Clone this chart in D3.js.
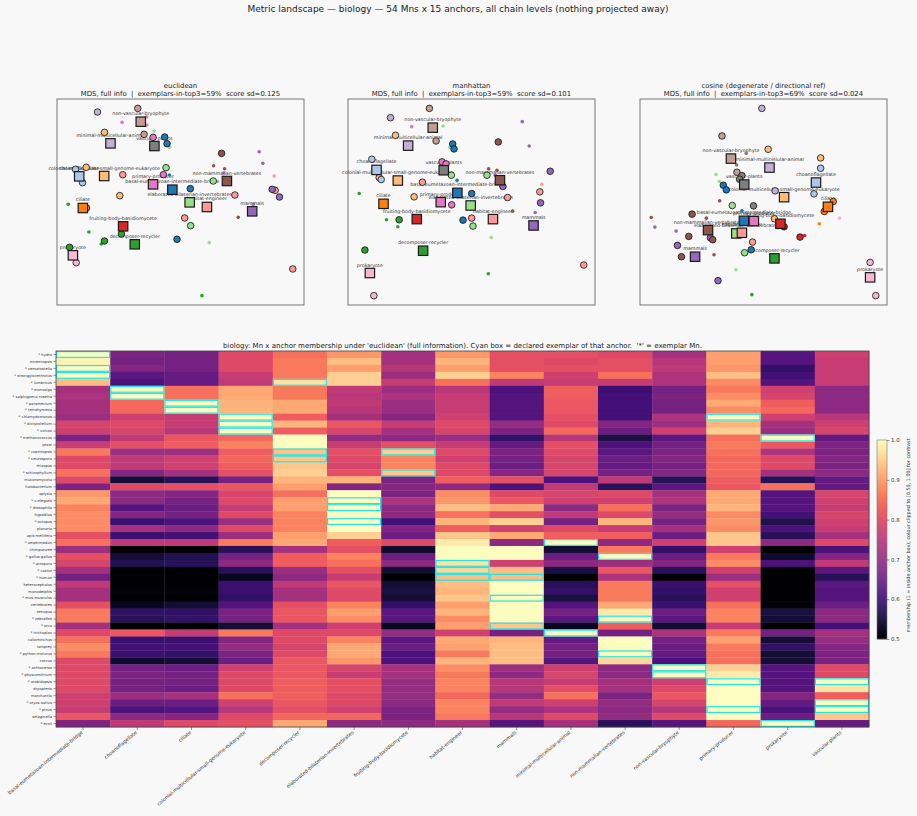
<!DOCTYPE html>
<html>
<head>
<meta charset="utf-8">
<script src="https://cdn.jsdelivr.net/npm/d3@7"></script>
<style>
  body { margin: 0; background: #f8f8f8; }
  svg { display: block; font-family: "DejaVu Sans", sans-serif; }
</style>
</head>
<body>
<svg id="chart" width="917" height="816"></svg>
<script>
/* global d3 */

const anchors = ["basal-eumetazoan-intermediate-bridge", "choanoflagellate", "ciliate",
  "colonial-multicellular-small-genome-eukaryote", "decomposer-recycler",
  "elaborated-bilaterian-invertebrates", "fruiting-body-basidiomycete", "habitat-engineer",
  "mammals", "minimal-multicellular-animal", "non-mammalian-vertebrates",
  "non-vascular-bryophyte", "primary-producer", "prokaryote", "vascular-plants"];

const metrics = ["euclidean", "manhattan", "cosine (degenerate / directional ref)"];
const exemplarsTop3 = [59, 59, 69];
const scoreSd = [0.125, 0.101, 0.024];

// MDS coordinates of the anchors, one [x, y] per anchor
const euclidAnchors = [[-0.24, 0.16], [-3.04, 0.56], [-2.93, -0.39], [-2.29, 0.57], [-1.37, -1.48],
  [0.28, -0.22], [-1.72, -0.94], [0.80, -0.36], [2.16, -0.49], [-2.10, 1.55], [1.40, 0.42],
  [-1.19, 2.20], [-0.82, 0.32], [-3.23, -1.81], [-0.78, 1.47]];
const manhattanAnchors = [[-0.37, 0.06], [-2.80, 0.75], [-2.59, -0.27], [-2.16, 0.43], [-1.40, -1.68],
  [0.03, -0.32], [-1.59, -0.73], [0.70, -0.73], [1.92, -0.92], [-1.85, 1.48], [0.91, 0.44],
  [-1.11, 2.02], [-0.87, -0.22], [-3.00, -2.35], [-0.78, 0.74]];
const cosineAnchors = [[-0.54, -0.78], [1.63, 0.37], [1.99, -0.36], [0.67, -0.07], [0.38, -1.91],
  [-0.77, -1.16], [0.56, -0.87], [-0.60, -1.14], [-2.01, -1.86], [0.23, 0.82], [-1.62, -1.06],
  [-0.93, 1.09], [-0.24, -0.79], [3.26, -2.48], [-0.53, 0.31]];

// Mn points: [x, y, nearest anchor, exemplar?]
const euclidPoints = [
  [-2.49, 2.49, 9, 1], [-1.28, 2.60, 11, 1], [-2.28, 1.88, 3, 1], [-1.09, 1.82, 11, 1],
  [-0.82, 1.73, 12, 1], [-0.47, 1.74, 0, 1], [-0.40, 1.54, 0, 1], [1.24, 1.25, 10, 1],
  [-0.43, 0.82, 5, 1], [-1.73, 0.61, 7, 1], [-3.15, 0.77, 1, 1], [-2.83, 0.83, 3, 1],
  [-2.94, 0.37, 1, 1], [-0.51, 0.61, 12, 1], [0.99, 0.42, 5, 1], [0.30, 0.19, 0, 1],
  [-1.82, -0.02, 3, 1], [1.64, 0.00, 7, 1], [2.85, 0.14, 7, 1], [2.76, 0.17, 8, 1],
  [2.98, -0.06, 8, 1], [-2.82, -0.39, 2, 1], [0.13, -0.69, 7, 1], [0.31, -0.92, 5, 1],
  [-1.77, -1.17, 4, 1], [-2.28, -1.38, 4, 1], [-0.10, -1.33, 0, 1], [-3.33, -1.57, 4, 1],
  [-3.13, -2.03, 13, 1], [3.38, -2.22, 7, 1],
  [-1.75, 2.18, 12, 0], [-1.01, 2.35, 12, 0], [-1.01, 2.10, 12, 0], [-0.79, 1.92, 5, 0],
  [-0.32, 1.43, 5, 0], [2.37, 1.30, 8, 0], [2.48, 0.95, 8, 0], [1.00, 0.88, 10, 0],
  [1.33, 0.79, 10, 0], [-0.33, 0.60, 0, 0], [2.82, 0.57, 7, 0], [1.30, 0.66, 8, 0],
  [2.19, -0.28, 8, 0], [1.74, -0.67, 10, 0], [-3.37, -0.28, 4, 0], [-2.75, -1.11, 4, 0],
  [-2.38, -1.47, 4, 0], [0.87, -1.43, 5, 0], [0.65, -3.02, 4, 0]];
const manhattanPoints = [
  [-1.21, 2.60, 11, 1], [-2.38, 2.32, 9, 1], [-2.23, 1.79, 3, 1], [-1.01, 1.62, 11, 1],
  [-0.51, 1.53, 0, 1], [-0.47, 1.38, 0, 1], [0.86, 1.59, 10, 1], [-0.83, 0.99, 12, 1],
  [-0.71, 0.93, 12, 1], [-2.94, 1.07, 1, 1], [-2.72, 0.52, 3, 1], [-2.66, 0.46, 1, 1],
  [-0.55, 0.59, 5, 1], [2.42, 0.71, 8, 1], [-1.42, 0.38, 7, 1], [0.52, 0.59, 5, 1],
  [1.00, 0.25, 8, 1], [0.06, 0.04, 0, 1], [-1.67, -0.06, 3, 1], [-0.54, -0.30, 12, 1],
  [1.14, -0.08, 7, 1], [2.11, 0.09, 7, 1], [2.13, -0.24, 8, 1], [-2.12, -0.75, 4, 1],
  [-0.20, -0.76, 0, 1], [0.06, -0.70, 7, 1], [0.10, -0.94, 5, 1], [3.43, -2.11, 7, 1],
  [-3.15, -1.66, 4, 1], [-2.88, -3.03, 13, 1], [-2.57, -0.30, 2, 1],
  [-1.74, 2.05, 12, 0], [-0.80, 2.07, 5, 0], [1.58, 2.20, 8, 0], [1.79, 1.47, 8, 0],
  [-0.60, 1.43, 5, 0], [0.57, 0.78, 10, 0], [0.82, 0.74, 10, 0], [-0.38, 0.44, 0, 0],
  [2.17, 0.32, 7, 0], [0.77, 0.59, 8, 0], [-3.32, 0.04, 4, 0], [-2.50, -0.75, 4, 0],
  [-2.16, -0.96, 4, 0], [1.29, -0.49, 10, 0], [1.97, -0.53, 8, 0], [0.65, -1.28, 5, 0],
  [0.56, -2.37, 4, 0]];
const cosinePoints = [
  [0.00, 2.60, 9, 1], [-1.20, 1.77, 11, 1], [0.19, 1.37, 3, 1], [1.77, 1.11, 3, 1],
  [1.77, 0.80, 1, 1], [-0.75, 0.68, 11, 1], [-0.60, 0.58, 14, 1], [-0.67, 0.47, 14, 1],
  [-1.16, 0.29, 0, 1], [-1.07, 0.15, 0, 1], [0.40, 0.12, 9, 1], [1.57, 0.03, 1, 1],
  [-0.89, -0.32, 5, 1], [-0.25, -0.33, 14, 1], [2.15, -0.20, 2, 1], [1.88, -0.50, 2, 1],
  [-2.10, -0.58, 10, 1], [0.38, -0.72, 3, 1], [0.67, -0.96, 6, 1], [-2.20, -1.25, 10, 1],
  [-1.55, -1.29, 8, 1], [-1.48, -1.35, 10, 1], [1.15, -1.27, 6, 1], [-2.54, -1.52, 8, 1],
  [-0.28, -1.42, 7, 1], [-2.42, -1.86, 10, 1], [-0.32, -1.65, 0, 1], [-0.52, -1.74, 5, 1],
  [-1.32, -2.58, 8, 1], [3.26, -2.03, 13, 1], [3.43, -3.03, 13, 1],
  [-0.47, 1.25, 14, 0], [-0.76, 0.90, 14, 0], [-1.38, 0.61, 5, 0], [-1.28, 0.40, 5, 0],
  [-1.27, -0.18, 10, 0], [-0.60, -0.48, 0, 0], [-3.33, -0.68, 10, 0], [-3.22, -0.97, 8, 0],
  [-1.67, -0.70, 10, 0], [-2.58, -1.09, 8, 0], [1.29, -1.22, 6, 0], [1.73, -0.87, 2, 0],
  [2.34, -0.70, 13, 0], [-1.44, -1.80, 10, 0], [-0.78, -2.25, 5, 0], [-0.30, -3.00, 4, 0]];

const mnNames = ["hydra", "mnemiopsis", "nematostella", "strongylocentrotus", "lumbricus",
  "monosiga", "salpingoeca-rosetta", "paramecium", "tetrahymena", "chlamydomonas",
  "dictyostelium", "volvox", "methanococcus", "yeast", "coprinopsis", "neurospora", "rhizopus",
  "schizophyllum", "mucoromycota", "halobacterium", "aplysia", "c.elegans", "drosophila",
  "hypsibius", "octopus", "planaria", "apis-mellifera", "amphimedon", "chimpanzee",
  "gallus-gallus", "acropora", "castor", "human", "heterocephalus", "monodelphis",
  "mus-musculus", "vertebrates", "xenopus", "zebrafish", "orca", "trichoplax", "callorhinchus",
  "lamprey", "python-molurus", "corvus", "anthoceros", "physcomitrium", "arabidopsis",
  "dryopteris", "marchantia", "oryza-sativa", "pinus", "selaginella", "ecoli"];

// declared exemplar anchors per Mn (index into anchors)
const declaredAnchors = [[0], [], [0], [0], [4], [1], [1], [2], [2], [3, 12], [3], [3], [13], [],
  [4, 6], [4], [], [6], [], [], [], [5], [5], [], [5], [], [], [9], [], [10], [7], [7], [7, 8],
  [], [], [8], [], [], [10], [8], [9], [], [], [10], [], [11], [11], [12, 14], [], [], [14],
  [12, 14], [], [13]];

// membership of each Mn (rows) in each anchor (columns), euclidean
const membership = [
  [1.00, 0.68, 0.67, 0.80, 0.85, 0.89, 0.73, 0.89, 0.81, 0.81, 0.80, 0.73, 0.90, 0.63, 0.78],
  [0.99, 0.67, 0.67, 0.80, 0.86, 0.93, 0.73, 0.92, 0.81, 0.80, 0.81, 0.75, 0.90, 0.63, 0.77],
  [1.00, 0.69, 0.67, 0.80, 0.86, 0.90, 0.75, 0.90, 0.81, 0.81, 0.81, 0.76, 0.89, 0.59, 0.77],
  [1.00, 0.64, 0.65, 0.77, 0.86, 0.95, 0.72, 0.95, 0.87, 0.78, 0.85, 0.74, 0.93, 0.61, 0.77],
  [0.93, 0.62, 0.65, 0.76, 0.97, 0.95, 0.77, 0.85, 0.76, 0.77, 0.77, 0.74, 0.88, 0.63, 0.77],
  [0.73, 1.00, 0.85, 0.91, 0.86, 0.76, 0.72, 0.75, 0.62, 0.83, 0.60, 0.67, 0.86, 0.78, 0.70],
  [0.74, 1.00, 0.85, 0.91, 0.86, 0.75, 0.74, 0.77, 0.63, 0.83, 0.61, 0.68, 0.88, 0.79, 0.70],
  [0.73, 0.84, 1.00, 0.92, 0.91, 0.76, 0.72, 0.77, 0.63, 0.82, 0.61, 0.67, 0.91, 0.83, 0.70],
  [0.73, 0.84, 1.00, 0.92, 0.91, 0.75, 0.72, 0.77, 0.63, 0.82, 0.61, 0.67, 0.88, 0.84, 0.70],
  [0.72, 0.78, 0.77, 1.00, 0.83, 0.73, 0.69, 0.78, 0.63, 0.81, 0.61, 0.74, 1.00, 0.78, 0.75],
  [0.79, 0.80, 0.77, 1.00, 0.92, 0.82, 0.77, 0.80, 0.71, 0.80, 0.69, 0.72, 0.92, 0.73, 0.78],
  [0.78, 0.79, 0.75, 1.00, 0.83, 0.79, 0.73, 0.79, 0.68, 0.84, 0.66, 0.78, 0.95, 0.72, 0.79],
  [0.68, 0.76, 0.82, 0.84, 1.00, 0.71, 0.70, 0.72, 0.59, 0.75, 0.56, 0.64, 0.85, 1.00, 0.65],
  [0.77, 0.81, 0.83, 0.87, 1.00, 0.77, 0.81, 0.77, 0.65, 0.81, 0.62, 0.67, 0.86, 0.82, 0.68],
  [0.86, 0.72, 0.72, 0.83, 0.94, 0.81, 0.95, 0.80, 0.68, 0.80, 0.64, 0.68, 0.85, 0.74, 0.68],
  [0.80, 0.76, 0.78, 0.84, 0.94, 0.80, 0.87, 0.78, 0.67, 0.79, 0.66, 0.69, 0.84, 0.80, 0.69],
  [0.80, 0.76, 0.78, 0.83, 0.94, 0.79, 0.87, 0.80, 0.66, 0.79, 0.65, 0.67, 0.84, 0.80, 0.68],
  [0.85, 0.69, 0.73, 0.81, 0.95, 0.81, 0.94, 0.80, 0.69, 0.79, 0.67, 0.69, 0.84, 0.73, 0.70],
  [0.80, 0.55, 0.58, 0.67, 0.92, 0.92, 0.68, 0.83, 0.81, 0.62, 0.76, 0.58, 0.83, 0.58, 0.65],
  [0.68, 0.80, 0.81, 0.82, 0.90, 0.69, 0.69, 0.70, 0.62, 0.76, 0.58, 0.64, 0.82, 0.85, 0.65],
  [0.89, 0.70, 0.69, 0.79, 0.85, 1.00, 0.68, 0.88, 0.80, 0.79, 0.80, 0.73, 0.91, 0.63, 0.79],
  [0.91, 0.70, 0.67, 0.80, 0.90, 1.00, 0.74, 0.89, 0.82, 0.78, 0.78, 0.74, 0.91, 0.63, 0.78],
  [0.87, 0.63, 0.66, 0.77, 0.90, 1.00, 0.70, 0.93, 0.91, 0.70, 0.85, 0.68, 0.92, 0.63, 0.77],
  [0.88, 0.69, 0.67, 0.80, 0.87, 1.00, 0.70, 0.85, 0.81, 0.76, 0.80, 0.71, 0.88, 0.61, 0.79],
  [0.88, 0.60, 0.62, 0.72, 0.87, 1.00, 0.61, 0.92, 0.95, 0.67, 0.92, 0.67, 0.89, 0.57, 0.78],
  [0.88, 0.73, 0.70, 0.80, 0.87, 1.00, 0.69, 0.83, 0.78, 0.80, 0.77, 0.73, 0.88, 0.62, 0.77],
  [0.81, 0.60, 0.61, 0.72, 0.90, 0.95, 0.66, 0.94, 0.91, 0.83, 0.83, 0.66, 0.94, 0.58, 0.73],
  [0.85, 0.76, 0.76, 0.86, 0.91, 0.83, 0.80, 0.98, 0.70, 1.00, 0.70, 0.78, 0.94, 0.70, 0.80],
  [0.72, 0.50, 0.50, 0.58, 0.73, 0.81, 0.54, 1.00, 1.00, 0.55, 0.86, 0.59, 0.78, 0.50, 0.62],
  [0.81, 0.55, 0.57, 0.67, 0.83, 0.87, 0.66, 1.00, 1.00, 0.66, 1.00, 0.66, 0.86, 0.54, 0.69],
  [0.79, 0.57, 0.58, 0.70, 0.83, 0.85, 0.70, 0.97, 0.78, 0.70, 0.72, 0.69, 0.88, 0.62, 0.76],
  [0.73, 0.50, 0.50, 0.58, 0.72, 0.81, 0.55, 0.96, 0.93, 0.56, 0.82, 0.58, 0.78, 0.50, 0.64],
  [0.67, 0.50, 0.50, 0.53, 0.70, 0.77, 0.50, 0.93, 0.93, 0.50, 0.74, 0.50, 0.72, 0.50, 0.58],
  [0.76, 0.50, 0.50, 0.60, 0.76, 0.82, 0.55, 0.93, 1.00, 0.58, 0.86, 0.60, 0.81, 0.50, 0.64],
  [0.73, 0.51, 0.51, 0.60, 0.73, 0.80, 0.56, 0.92, 1.00, 0.59, 0.86, 0.59, 0.78, 0.50, 0.63],
  [0.73, 0.50, 0.50, 0.59, 0.73, 0.80, 0.55, 0.94, 1.00, 0.56, 0.86, 0.58, 0.78, 0.50, 0.63],
  [0.81, 0.53, 0.55, 0.63, 0.81, 0.87, 0.59, 0.90, 1.00, 0.63, 0.91, 0.60, 0.85, 0.51, 0.66],
  [0.86, 0.59, 0.59, 0.68, 0.82, 0.90, 0.64, 0.92, 1.00, 0.67, 0.98, 0.66, 0.87, 0.56, 0.70],
  [0.86, 0.58, 0.59, 0.67, 0.82, 0.88, 0.64, 0.88, 1.00, 0.64, 1.00, 0.64, 0.87, 0.55, 0.70],
  [0.73, 0.50, 0.50, 0.55, 0.73, 0.78, 0.53, 0.90, 0.94, 0.53, 0.83, 0.55, 0.77, 0.50, 0.61],
  [0.80, 0.82, 0.77, 0.86, 0.80, 0.80, 0.71, 0.78, 0.67, 1.00, 0.67, 0.74, 0.86, 0.67, 0.73],
  [0.85, 0.60, 0.60, 0.69, 0.80, 0.87, 0.64, 0.91, 0.92, 0.65, 1.00, 0.67, 0.90, 0.55, 0.71],
  [0.88, 0.61, 0.61, 0.71, 0.79, 0.91, 0.66, 0.90, 0.93, 0.67, 1.00, 0.66, 0.86, 0.59, 0.69],
  [0.86, 0.60, 0.59, 0.68, 0.80, 0.91, 0.62, 0.86, 0.93, 0.67, 1.00, 0.65, 0.85, 0.55, 0.68],
  [0.80, 0.54, 0.55, 0.66, 0.82, 0.89, 0.62, 0.92, 0.93, 0.63, 0.96, 0.62, 0.85, 0.55, 0.68],
  [0.80, 0.67, 0.66, 0.78, 0.82, 0.79, 0.73, 0.88, 0.72, 0.78, 0.70, 1.00, 0.95, 0.63, 0.80],
  [0.80, 0.68, 0.67, 0.80, 0.82, 0.77, 0.73, 0.86, 0.70, 0.79, 0.70, 1.00, 0.98, 0.63, 0.80],
  [0.80, 0.67, 0.67, 0.80, 0.83, 0.81, 0.71, 0.87, 0.75, 0.77, 0.73, 0.78, 1.00, 0.63, 1.00],
  [0.80, 0.67, 0.66, 0.80, 0.83, 0.81, 0.71, 0.87, 0.75, 0.81, 0.73, 0.80, 1.00, 0.63, 0.97],
  [0.78, 0.72, 0.73, 0.85, 0.83, 0.80, 0.71, 0.84, 0.71, 0.85, 0.68, 0.82, 1.00, 0.69, 0.83],
  [0.78, 0.66, 0.66, 0.78, 0.82, 0.80, 0.70, 0.87, 0.76, 0.78, 0.71, 0.79, 1.00, 0.65, 1.00],
  [0.77, 0.62, 0.63, 0.75, 0.81, 0.78, 0.68, 0.87, 0.71, 0.74, 0.70, 0.75, 1.00, 0.62, 1.00],
  [0.82, 0.70, 0.69, 0.80, 0.84, 0.84, 0.68, 0.86, 0.75, 0.80, 0.71, 0.80, 1.00, 0.66, 0.94],
  [0.68, 0.76, 0.80, 0.81, 0.91, 0.70, 0.70, 0.73, 0.63, 0.73, 0.58, 0.63, 0.84, 1.00, 0.65]];

const colourTicks = [0.5, 0.6, 0.7, 0.8, 0.9, 1.0];

const tab20 = ["#1f77b4", "#aec7e8", "#ff7f0e", "#ffbb78", "#2ca02c", "#98df8a", "#d62728",
  "#ff9896", "#9467bd", "#c5b0d5", "#8c564b", "#c49c94", "#e377c2", "#f7b6d2", "#7f7f7f"];

const svg = d3.select('#chart');
const ink = '#222';

svg.append('text')
  .attr('x', 458).attr('y', 12)
  .attr('text-anchor', 'middle')
  .style('font-size', '9px').attr('fill', ink)
  .text('Metric landscape \u2014 biology \u2014 54 Mns x 15 anchors, all chain levels (nothing projected away)');

// ---------- the three MDS panels ----------
const panelLeft = [57, 348, 640];
const panelW = 247, panelTop = 99, panelH = 206;
const panels = [
  { anchors: euclidAnchors, points: euclidPoints },
  { anchors: manhattanAnchors, points: manhattanPoints },
  { anchors: cosineAnchors, points: cosinePoints }
];

function padded(vals) {
  var [lo, hi] = d3.extent(vals);
  var m = (hi - lo) * 0.05;
  return [lo - m, hi + m];
}

panels.forEach((p, i) => {
  var left = panelLeft[i];
  var g = svg.append('g').attr('class', 'panel');
  var xs = p.points.map(d => d[0]).concat(p.anchors.map(d => d[0]));
  var ys = p.points.map(d => d[1]).concat(p.anchors.map(d => d[1]));
  var x = d3.scaleLinear().domain(padded(xs)).range([left, left + panelW]);
  var y = d3.scaleLinear().domain(padded(ys)).range([panelTop + panelH, panelTop]);

  g.append('rect')
    .attr('x', left).attr('y', panelTop)
    .attr('width', panelW).attr('height', panelH)
    .attr('fill', '#f8f8f8').attr('stroke', '#777').attr('stroke-width', 1);

  var cx = left + panelW / 2;
  g.append('text').attr('x', cx).attr('y', 87.5).attr('text-anchor', 'middle')
    .style('font-size', '6.9px').attr('fill', ink).text(metrics[i]);
  g.append('text').attr('x', cx).attr('y', 95.5).attr('text-anchor', 'middle')
    .style('font-size', '6.9px').attr('fill', ink).attr('xml:space', 'preserve')
    .text(`MDS, full info  |  exemplars-in-top3=${exemplarsTop3[i]}%  score sd=${scoreSd[i].toFixed(3)}`);

  // labels go underneath the markers
  g.selectAll('text.alabel').data(p.anchors).enter().append('text')
    .attr('class', 'alabel')
    .attr('x', d => x(d[0])).attr('y', d => y(d[1]) - 6.5)
    .attr('text-anchor', 'middle')
    .style('font-size', '4.8px').attr('fill', '#333')
    .text((d, k) => anchors[k]);

  var pts = p.points.slice().sort((a, b) => a[3] - b[3]);
  g.selectAll('circle.mn').data(pts).enter().append('circle')
    .attr('class', 'mn')
    .attr('cx', d => x(d[0])).attr('cy', d => y(d[1]))
    .attr('r', d => d[3] ? 3.3 : 1.8)
    .attr('fill', d => tab20[d[2]])
    .attr('stroke', d => d[3] ? '#111' : 'none')
    .attr('stroke-width', 0.8);

  g.selectAll('rect.anchor').data(p.anchors).enter().append('rect')
    .attr('class', 'anchor')
    .attr('x', d => x(d[0]) - 4.7).attr('y', d => y(d[1]) - 4.7)
    .attr('width', 9.4).attr('height', 9.4)
    .attr('fill', (d, k) => tab20[k])
    .attr('stroke', '#1a1a1a').attr('stroke-width', 1.2);
});

// ---------- membership heatmap ----------
const hm = { left: 56, right: 869, top: 351, bottom: 727 };
const colour = d3.scaleSequential(d3.interpolateMagma).domain([0.5, 1.0]).clamp(true);
const xb = d3.scaleBand().domain(d3.range(anchors.length)).range([hm.left, hm.right]);
const yb = d3.scaleBand().domain(d3.range(mnNames.length)).range([hm.top, hm.bottom]);

svg.append('text')
  .attr('x', (hm.left + hm.right) / 2).attr('y', 347.5)
  .attr('text-anchor', 'middle')
  .style('font-size', '7px').attr('fill', ink)
  .attr('xml:space', 'preserve')
  .text("biology: Mn x anchor membership under 'euclidean' (full information). Cyan box = declared exemplar of that anchor.  '*' = exemplar Mn.");

var cells = [];
membership.forEach((row, r) => row.forEach((v, c) => cells.push({ r: r, c: c, v: v })));

svg.append('g').selectAll('rect').data(cells).enter().append('rect')
  .attr('x', d => xb(d.c)).attr('y', d => yb(d.r))
  .attr('width', xb.bandwidth() + 0.3).attr('height', yb.bandwidth() + 0.3)
  .attr('fill', d => colour(d.v));

var boxes = [];
declaredAnchors.forEach((list, r) => list.forEach(c => boxes.push({ r: r, c: c })));
svg.append('g').selectAll('rect').data(boxes).enter().append('rect')
  .attr('x', d => xb(d.c) + 0.6).attr('y', d => yb(d.r) + 0.6)
  .attr('width', xb.bandwidth() - 1.2).attr('height', yb.bandwidth() - 1.2)
  .attr('fill', 'none').attr('stroke', '#22e6e6').attr('stroke-width', 1.2);

svg.append('rect')
  .attr('x', hm.left).attr('y', hm.top)
  .attr('width', hm.right - hm.left).attr('height', hm.bottom - hm.top)
  .attr('fill', 'none').attr('stroke', '#444').attr('stroke-width', 0.8);

// row labels, '*' marks an exemplar Mn
var rows = svg.append('g').selectAll('g').data(mnNames).enter().append('g')
  .attr('transform', (d, r) => `translate(${hm.left},${yb(r) + yb.bandwidth() / 2})`);
rows.append('line').attr('x1', -2.5).attr('x2', 0).attr('stroke', '#555').attr('stroke-width', 0.6);
rows.append('text')
  .attr('x', -4).attr('dy', '0.35em').attr('text-anchor', 'end')
  .style('font-size', '3.7px').attr('fill', '#333')
  .text((d, r) => (declaredAnchors[r].length ? '* ' : '') + d);

var cols = svg.append('g').selectAll('g').data(anchors).enter().append('g')
  .attr('transform', (d, c) => `translate(${xb(c) + xb.bandwidth() / 2},${hm.bottom})`);
cols.append('line').attr('y1', 0).attr('y2', 3).attr('stroke', '#555').attr('stroke-width', 0.6);
cols.append('text')
  .attr('transform', 'translate(0,6) rotate(-40)')
  .attr('text-anchor', 'end')
  .style('font-size', '4.9px').attr('fill', '#333')
  .text(d => d);

// ---------- colour bar ----------
const cb = { x: 877, w: 10, top: 440, bottom: 639 };
const cy = d3.scaleLinear().domain([0.5, 1.0]).range([cb.bottom, cb.top]);
var steps = d3.range(0, 200).map(k => 0.5 + 0.5 * k / 200);
svg.append('g').selectAll('rect').data(steps).enter().append('rect')
  .attr('x', cb.x).attr('width', cb.w)
  .attr('y', d => cy(d + 0.5 / 200)).attr('height', Math.abs(cy(0.5) - cy(0.5 + 0.5 / 200)) + 0.3)
  .attr('fill', d => colour(d + 0.25 / 200));
svg.append('rect')
  .attr('x', cb.x).attr('y', cb.top).attr('width', cb.w).attr('height', cb.bottom - cb.top)
  .attr('fill', 'none').attr('stroke', '#777').attr('stroke-width', 0.6);

var axis = d3.axisRight(cy).tickValues(colourTicks).tickFormat(d3.format('.1f')).tickSize(2.5).tickPadding(1.5);
svg.append('g')
  .attr('transform', `translate(${cb.x + cb.w},0)`)
  .call(axis)
  .call(s => s.select('.domain').remove())
  .call(s => s.selectAll('line').attr('stroke', '#555').attr('stroke-width', 0.6))
  .call(s => s.selectAll('text').style('font-size', '5.4px').attr('fill', '#333')
    .style('font-family', '"DejaVu Sans", sans-serif'));

svg.append('text')
  .attr('transform', `translate(910,${(cb.top + cb.bottom) / 2 - 4}) rotate(-90)`)
  .attr('text-anchor', 'middle')
  .style('font-size', '4.9px').attr('fill', '#333')
  .text('membership (1 = inside anchor box); colour clipped to [0.50, 1.00] for contrast');
</script>
</body>
</html>
